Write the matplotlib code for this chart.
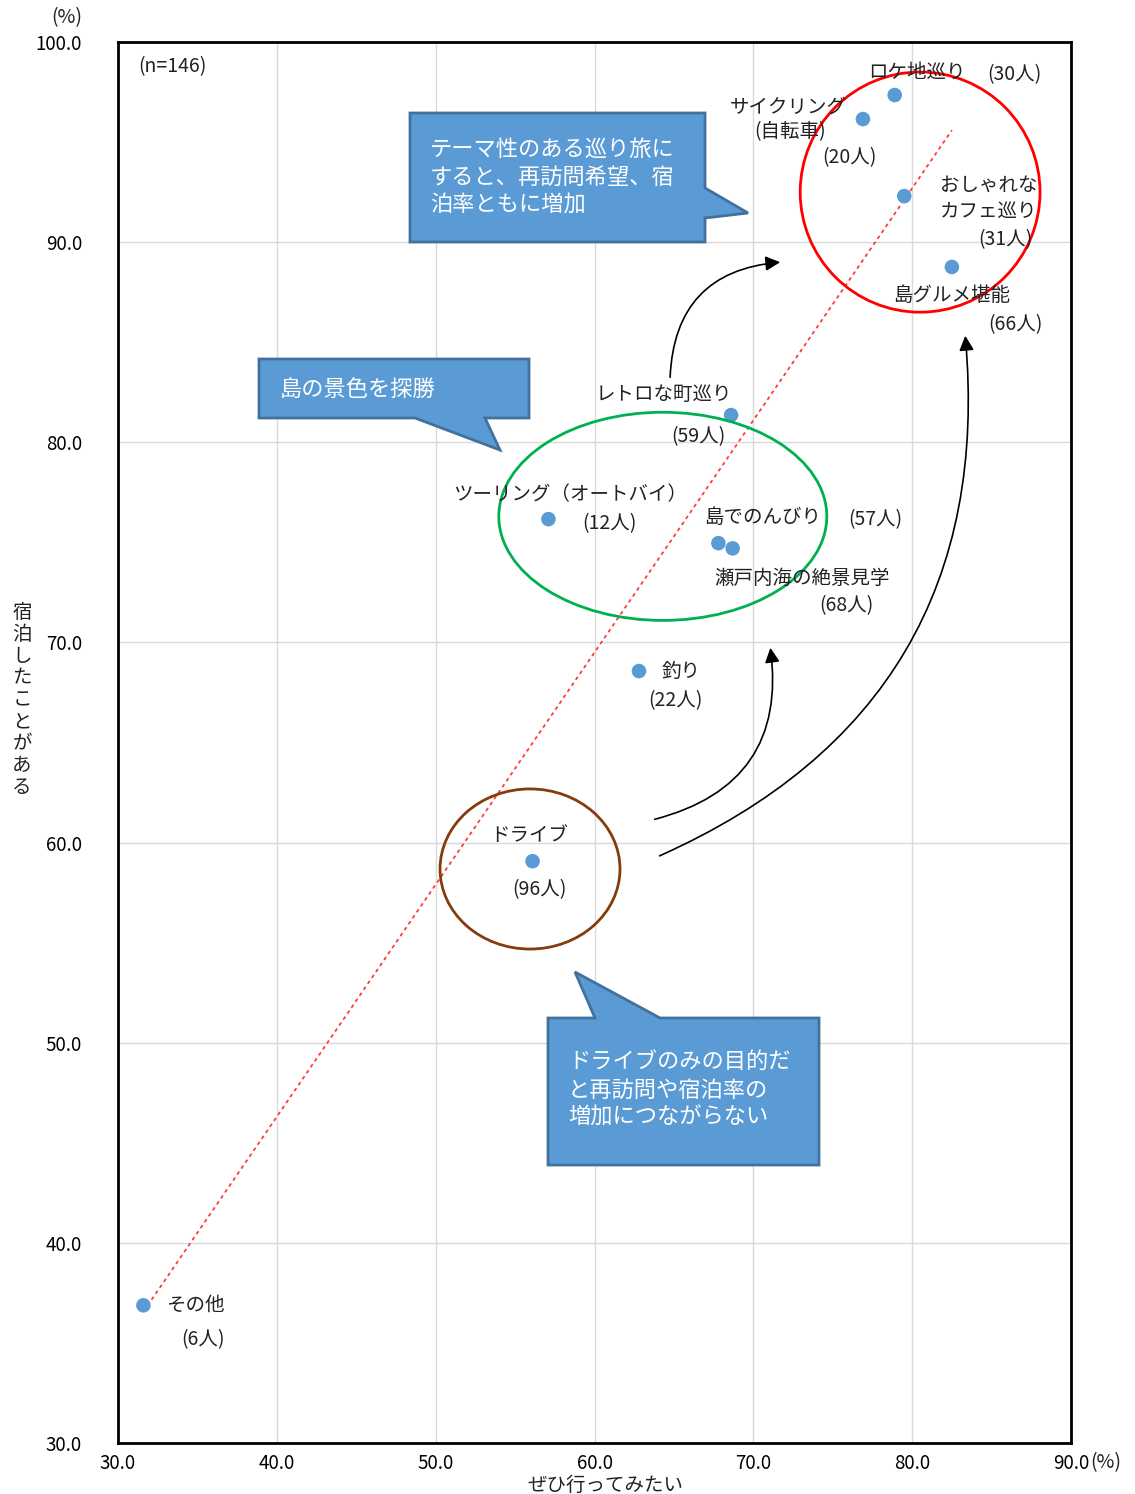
import numpy as np
import matplotlib
matplotlib.use('Agg')
import matplotlib.pyplot as plt
from matplotlib.patches import Ellipse, Polygon, FancyArrowPatch

plt.rcParams['font.family'] = ['Noto Sans CJK JP', 'DejaVu Sans']

# data: x = ぜひ行ってみたい (%), y = 宿泊したことがある (%)
names = ['ロケ地巡り', 'サイクリング', 'おしゃれなカフェ巡り', '島グルメ堪能', 'レトロな町巡り',
         'ツーリング', '島でのんびり', '瀬戸内海の絶景見学', '釣り', 'ドライブ', 'その他']
want = [78.9, 76.9, 79.5, 82.5, 68.6, 57.1, 67.8, 68.7, 62.8, 56.1, 31.6]
stayed = [97.35, 96.15, 92.3, 88.76, 81.36, 76.16, 74.96, 74.7, 68.57, 59.07, 36.88]
counts = [30, 20, 31, 66, 59, 12, 57, 68, 22, 96, 6]
xticks = [30, 40, 50, 60, 70, 80, 90]
yticks = [30, 40, 50, 60, 70, 80, 90, 100]

W, H = 1135, 1494
fig = plt.figure(figsize=(W / 100, H / 100), dpi=100)
ax = fig.add_axes([118 / W, 1 - 1443 / H, (1071 - 118) / W, (1443 - 42) / H])

ax.set_xlim(30, 90)
ax.set_ylim(30, 100)
ax.set_xticks(xticks)
ax.set_yticks(yticks)
ax.set_xticklabels(['%.1f' % v for v in xticks], fontsize=13.5)
ax.set_yticklabels(['%.1f' % v for v in yticks], fontsize=13.5)
ax.tick_params(axis='x', length=0, pad=7)
ax.tick_params(axis='y', length=0, pad=26)
ax.grid(color='#D9D9D9', lw=1)
ax.set_axisbelow(True)
for s in ax.spines.values():
    s.set_linewidth(2)
    s.set_color('black')

# linear trendline over the data range
k, b = np.polyfit(want, stayed, 1)
xx = np.array([min(want), max(want)])
ax.plot(xx, k * xx + b, color='#FF3B3B', lw=1.3, ls=(0, (2, 2)), zorder=2)

ax.scatter(want, stayed, s=110, color='#5B9BD5', zorder=3, edgecolors='none')

# circles around groups
ax.add_patch(Ellipse((80.5, 92.5), 15.1, 12.0, fill=False, ec='#FF0000', lw=2, zorder=4))
ax.add_patch(Ellipse((64.3, 76.3), 20.65, 10.4, fill=False, ec='#00B050', lw=2, zorder=4))
ax.add_patch(Ellipse((55.94, 58.68), 11.33, 8.0, fill=False, ec='#843C0C', lw=2, zorder=4))

# overlay in pixel coordinates for text, callouts and arrows
ov = fig.add_axes([0, 0, 1, 1], zorder=5)
ov.set_xlim(0, W)
ov.set_ylim(H, 0)
ov.axis('off')
ov.patch.set_alpha(0)

lab = dict(fontsize=14, color='#222222', va='center')
ov.text(138, 67, '(n=146)', **lab)
ov.text(67, 18, '(%)', ha='center', **lab)
ov.text(1090, 1463, '(%)', ha='left', **lab)
ov.text(605, 1485, 'ぜひ行ってみたい', ha='center', **lab)
ov.text(22, 700, '\n'.join('宿泊したことがある'), ha='center', linespacing=1.05, **lab)

labels = [
    (868, 72, 'ロケ地巡り', 'left'), (987, 75, '(%d人)' % counts[0], 'left'),
    (788, 107, 'サイクリング', 'center'), (790, 132, '(自転車)', 'center'),
    (849, 158, '(%d人)' % counts[1], 'center'),
    (940, 185, 'おしゃれな', 'left'), (940, 211, 'カフェ巡り', 'left'),
    (1005, 240, '(%d人)' % counts[2], 'center'),
    (893, 295, '島グルメ堪能', 'left'), (1015, 325, '(%d人)' % counts[3], 'center'),
    (596, 395, 'レトロな町巡り', 'left'), (698, 437, '(%d人)' % counts[4], 'center'),
    (453, 495, 'ツーリング（オートバイ）', 'left'), (609, 524, '(%d人)' % counts[5], 'center'),
    (704, 517, '島でのんびり', 'left'), (875, 520, '(%d人)' % counts[6], 'center'),
    (714, 578, '瀬戸内海の絶景見学', 'left'), (846, 606, '(%d人)' % counts[7], 'center'),
    (662, 671, '釣り', 'left'), (675, 701, '(%d人)' % counts[8], 'center'),
    (490, 836, 'ドライブ', 'left'), (539, 890, '(%d人)' % counts[9], 'center'),
    (166, 1305, 'その他', 'left'), (203, 1340, '(%d人)' % counts[10], 'center'),
]
for x, y, t, ha in labels:
    ov.text(x, y, t, ha=ha, **lab)

fill, edge = '#5B9BD5', '#41719C'
callouts = [
    [(410, 113), (705, 113), (705, 188), (748, 213), (705, 218), (705, 242), (410, 242)],
    [(259, 359), (529, 359), (529, 418), (485, 418), (500, 450), (415, 418), (259, 418)],
    [(548, 1018), (595, 1018), (575, 972), (660, 1018), (819, 1018), (819, 1165), (548, 1165)],
]
for pts in callouts:
    ov.add_patch(Polygon(pts, closed=True, fc=fill, ec=edge, lw=2))
ct = dict(fontsize=16, color='white', va='center', ha='left', linespacing=1.25)
ov.text(430, 177, 'テーマ性のある巡り旅に\nすると、再訪問希望、宿\n泊率ともに増加', **ct)
ov.text(280, 389, '島の景色を探勝', **ct)
ov.text(568, 1090, 'ドライブのみの目的だ\nと再訪問や宿泊率の\n増加につながらない', **ct)

arrows = [((670, 380), (783, 262), -0.45), ((652, 820), (770, 645), 0.45),
          ((657, 857), (965, 333), 0.36)]
for p0, p1, rad in arrows:
    ov.add_patch(FancyArrowPatch(p0, p1, connectionstyle='arc3,rad=%s' % rad,
                                 arrowstyle='-|>', mutation_scale=22, lw=1.2, color='black'))

fig.savefig('out.png', dpi=100)
